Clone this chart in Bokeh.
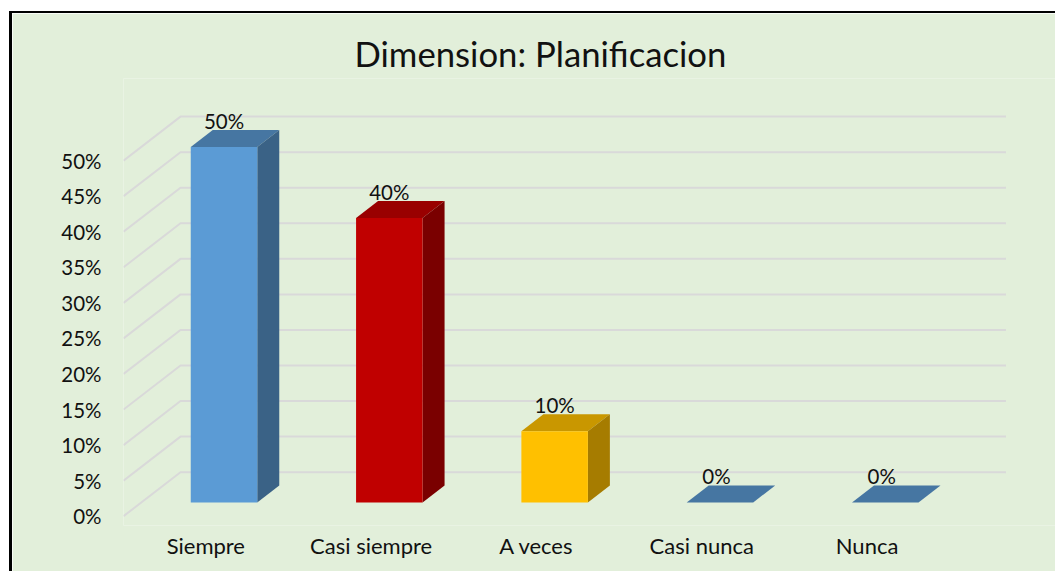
from bokeh.plotting import figure
from bokeh.models import ColumnDataSource, FixedTicker, Range1d
from bokeh.embed import file_html
from bokeh.resources import INLINE
from bokeh.core.properties import value

title = "Dimension: Planificacion"
categories = ["Siempre", "Casi siempre", "A veces", "Casi nunca", "Nunca"]
values = [50, 40, 10, 0, 0]
y_ticks = [0, 5, 10, 15, 20, 25, 30, 35, 40, 45, 50]
front = ["#5B9BD5", "#C00000", "#FFC000", "#5B9BD5", "#5B9BD5"]
top = ["#4676A2", "#990000", "#C99700", "#4676A2", "#4676A2"]
side = ["#3A6286", "#7A0000", "#A67C00", "#3A6286", "#3A6286"]

FONT = "Lato"
BG = "#E2EFDA"
GRID = "#D9D9D9"
TEXT = "#111111"

# projection of the fake 3D view, in data units
WALL_DX, WALL_DY = 57 / 165.3, 44 / 7.108
BAR_DX, BAR_DY = 22 / 165.3, 17 / 7.108
BAR_W = 66.5 / 165.3
BAR_SHIFT_X, BAR_SHIFT_Y = 0.11, 1.93
WALL_START, WALL_END = -0.498, 4.84

p = figure(width=1046, height=560, output_backend="svg", toolbar_location=None,
           x_range=Range1d(WALL_START, 5.158), y_range=Range1d(-1.308, 61.55),
           margin=(11, 0, 0, 9),
           styles={"border-left": "3px solid #000", "border-top": "2px solid #000"},
           min_border_left=111, min_border_right=0, min_border_top=65, min_border_bottom=48,
           background_fill_color=BG, border_fill_color=BG, outline_line_color=None)
p.grid.visible = False

# grid: floor-to-wall diagonals then back-wall lines
p.multi_line(xs=[[WALL_START, WALL_START + WALL_DX, WALL_END] for _ in y_ticks],
             ys=[[t, t + WALL_DY, t + WALL_DY] for t in y_ticks],
             line_color=GRID, line_width=2)

# bars
rows = range(len(values))
x0 = [i + BAR_SHIFT_X - BAR_W / 2 for i in rows]
x1 = [a + BAR_W for a in x0]
yb = [BAR_SHIFT_Y] * len(values)
yt = [v + BAR_SHIFT_Y for v in values]

p.patches(xs=[[a, b, b + BAR_DX, a + BAR_DX] for a, b in zip(x0, x1)],
          ys=[[t, t, t + BAR_DY, t + BAR_DY] for t in yt],
          fill_color=top, line_color=None)
drawn = [i for i in rows if values[i] > 0]
p.patches(xs=[[x1[i], x1[i] + BAR_DX, x1[i] + BAR_DX, x1[i]] for i in drawn],
          ys=[[yb[i], yb[i] + BAR_DY, yt[i] + BAR_DY, yt[i]] for i in drawn],
          fill_color=[side[i] for i in drawn], line_color=None)
p.quad(left=[x0[i] for i in drawn], right=[x1[i] for i in drawn],
       bottom=[yb[i] for i in drawn], top=[yt[i] for i in drawn],
       fill_color=[front[i] for i in drawn], line_color=None)

# data labels
src = ColumnDataSource(dict(
    x=[i + BAR_SHIFT_X for i in rows], y=yt,
    t=[f"{v}%" for v in values],
    dx=[0 if v else -3.5 for v in values]))
p.text(x="x", y="y", text="t", source=src, x_offset="dx", y_offset=-26,
       text_align="center", text_baseline="middle",
       text_font=value(FONT), text_font_size="20.5px", text_color=TEXT)

# axes
ya = p.yaxis[0]
ya.ticker = FixedTicker(ticks=y_ticks)
ya.major_label_overrides = {t: f"{t}%" for t in y_ticks}
ya.major_label_standoff = 16
ya.major_label_text_font = FONT
ya.major_label_text_font_size = "20.5px"
ya.major_label_text_color = TEXT
ya.axis_line_color = None
ya.major_tick_line_color = None
ya.minor_tick_line_color = None

xa = p.xaxis[0]
xa.ticker = FixedTicker(ticks=list(rows))
xa.major_label_overrides = {i: c for i, c in enumerate(categories)}
xa.major_label_standoff = 0
xa.major_label_text_font = FONT
xa.major_label_text_font_size = "22px"
xa.major_label_text_color = TEXT
xa.axis_line_color = None
xa.major_tick_line_color = None
xa.minor_tick_line_color = None

p.title.text = title
p.title.align = "left"
p.title.offset = 231
p.title.text_font = FONT
p.title.text_font_style = "normal"
p.title.text_font_size = "34.7px"
p.title.text_color = TEXT

open("out.html", "w").write(file_html(p, INLINE))
